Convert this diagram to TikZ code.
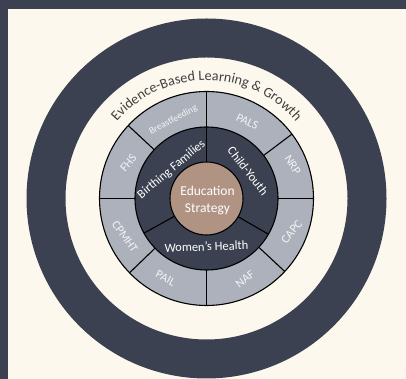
\documentclass[tikz,border=0pt]{standalone}
\usepackage{fontspec}
\setmainfont{Carlito}
\usepackage{xcolor}
\usetikzlibrary{decorations.text}
\definecolor{navy}{HTML}{3B4150}
\definecolor{cream}{HTML}{FCF8ED}
\definecolor{seggray}{HTML}{ACB1BB}
\definecolor{tan}{HTML}{B09383}
\definecolor{titlegray}{HTML}{404040}
\definecolor{segtext}{HTML}{F4F4F4}
\newcommand{\titlefont}{\fontsize{14.2}{17}\selectfont\color{titlegray}}

\begin{document}
\begin{tikzpicture}[x=1pt,y=1pt,line width=1.1pt,
	seglabel/.style={text=segtext,font=\fontsize{12}{14}\selectfont,inner sep=0pt},
	ringlabel/.style={text=white,font=\fontsize{12.5}{15}\selectfont,inner sep=0pt},
	divider/.style={draw=black,line width=1.1pt}]
	\useasboundingbox (0,0) rectangle (406,379);
	\fill[navy] (0,0) rectangle (406,379);
	\fill[cream] (8,0) rectangle (406,370);
	\begin{scope}[shift={(206.5,180.5)}]
		% outer band
		\fill[navy,even odd rule] (0,0) circle[radius=180pt] (0,0) circle[radius=141pt];
		% program ring
		\filldraw[fill=seggray,draw=black] (0,0) circle[radius=107pt];
		\foreach \a in {0,37,137,180,224,270,317}
			\draw[divider] (\a:71.5pt) -- (\a:107pt);
		% population ring
		\filldraw[fill=navy,draw=black] (0,0) circle[radius=71.5pt];
		\foreach \a in {90,209,330}
			\draw[divider] (\a:36.5pt) -- (\a:71.5pt);
		\draw[divider] (90:71.5pt) -- (90:107pt);
		% core
		\filldraw[fill=tan,draw=black] (0,0) circle[radius=36.5pt];
		\node[text=white,font=\fontsize{13.5}{17}\selectfont,align=center,inner sep=0pt] (core) at (1,-1.5) {Education\\Strategy};

		\node[ringlabel,rotate=40] (birth) at (-35,29) {Birthing Families};
		\node[ringlabel,rotate=-52] (child) at (41.5,27.5) {Child-Youth};
		\node[ringlabel,rotate=2] (women) at (0,-48) {Women's Health};

		\node[seglabel,rotate=28,font=\fontsize{9.5}{11}\selectfont] (bfeed) at (-33.2,78.5) {Breastfeeding};
		\node[seglabel,rotate=-25] (pals) at (40.8,76.8) {PALS};
		\node[seglabel,rotate=-58] (nrp) at (86.2,33.5) {NRP};
		\node[seglabel,rotate=50] (capc) at (85.2,-33.2) {CAPC};
		\node[seglabel,rotate=37] (naf) at (38.5,-80.8) {NAF};
		\node[seglabel,rotate=-28] (pail) at (-40.8,-79.8) {PAIL};
		\node[seglabel,rotate=-55] (cpmht) at (-81.5,-38.2) {CPMHT};
		\node[seglabel,rotate=50] (fhs) at (-78.2,35.8) {FHS};

		% title along the arc
		\path[decorate,decoration={text along path,text align=center,
			text={|\titlefont|Evidence-Based Learning {\&} Growth}}]
			(150:118pt) arc[start angle=150,end angle=30,radius=118pt];
	\end{scope}
\end{tikzpicture}
\end{document}
